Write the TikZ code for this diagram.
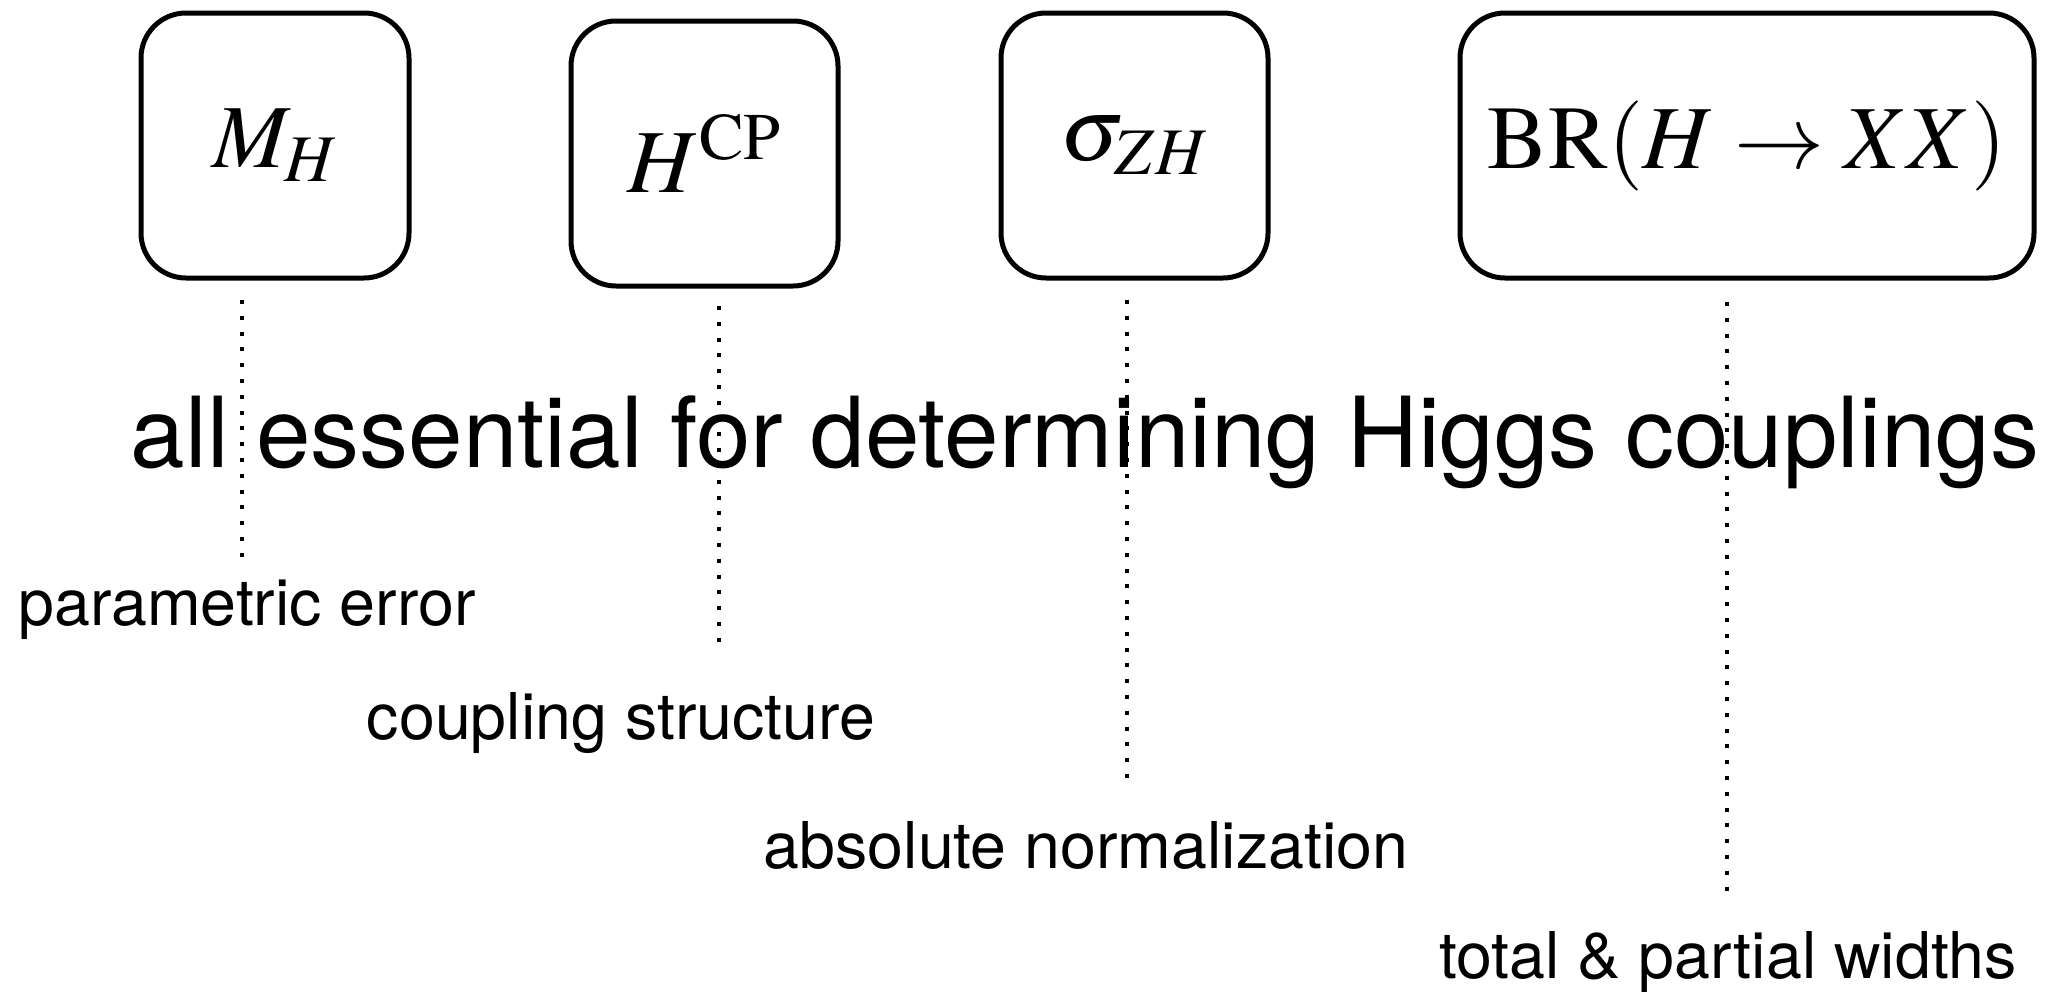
\documentclass[tikz,border=0pt]{standalone}
\usepackage{mathptmx}
\usepackage[no-math]{fontspec}
\setmainfont{TeX Gyre Heros}
\begin{document}
\begin{tikzpicture}[x=1pt,y=-1pt,
  qbox/.style={draw=black,line width=5pt,rounded corners=45pt,inner sep=0pt,
    minimum height=265pt,font=\fontsize{90}{100}\selectfont},
  dotline/.style={line width=4pt,dash pattern=on 4pt off 11.8pt},
  lbl/.style={anchor=base,inner sep=0pt,font=\fontsize{64.5}{70}\selectfont},
  bigtxt/.style={anchor=base,inner sep=0pt,font=\fontsize{98}{110}\selectfont}]
\useasboundingbox (0,0) rectangle (2050,991);
\node[qbox,minimum width=268pt] (b1) at (275,145.5) {$M_H$};
\node[qbox,minimum width=267pt] (b2) at (704.5,153.5) {$H^{\mathrm{CP}}$};
\node[qbox,minimum width=267pt] (b3) at (1134.5,145.5) {$\sigma_{ZH}$};
\node[qbox,minimum width=574pt] (b4) at (1747,145.5) {$\mathrm{BR}(H\rightarrow XX)$};
\node[bigtxt] (main) at (1085,467) {all essential for determining Higgs couplings};
\node[lbl] (l1) at (247,625) {parametric error};
\node[lbl] (l2) at (621,739) {coupling structure};
\node[lbl] (l3) at (1086,868) {absolute normalization};
\node[lbl] (l4) at (1728,978) {total \& partial widths};
\coordinate (d1t) at (242,300); \coordinate (d1b) at (242,560);
\coordinate (d2t) at (719,306); \coordinate (d2b) at (719,645);
\coordinate (d3t) at (1127,300); \coordinate (d3b) at (1127,782);
\coordinate (d4t) at (1727,302); \coordinate (d4b) at (1727,897);
\draw[dotline] (d1t) -- (d1b);
\draw[dotline] (d2t) -- (d2b);
\draw[dotline] (d3t) -- (d3b);
\draw[dotline] (d4t) -- (d4b);
\end{tikzpicture}
\end{document}
